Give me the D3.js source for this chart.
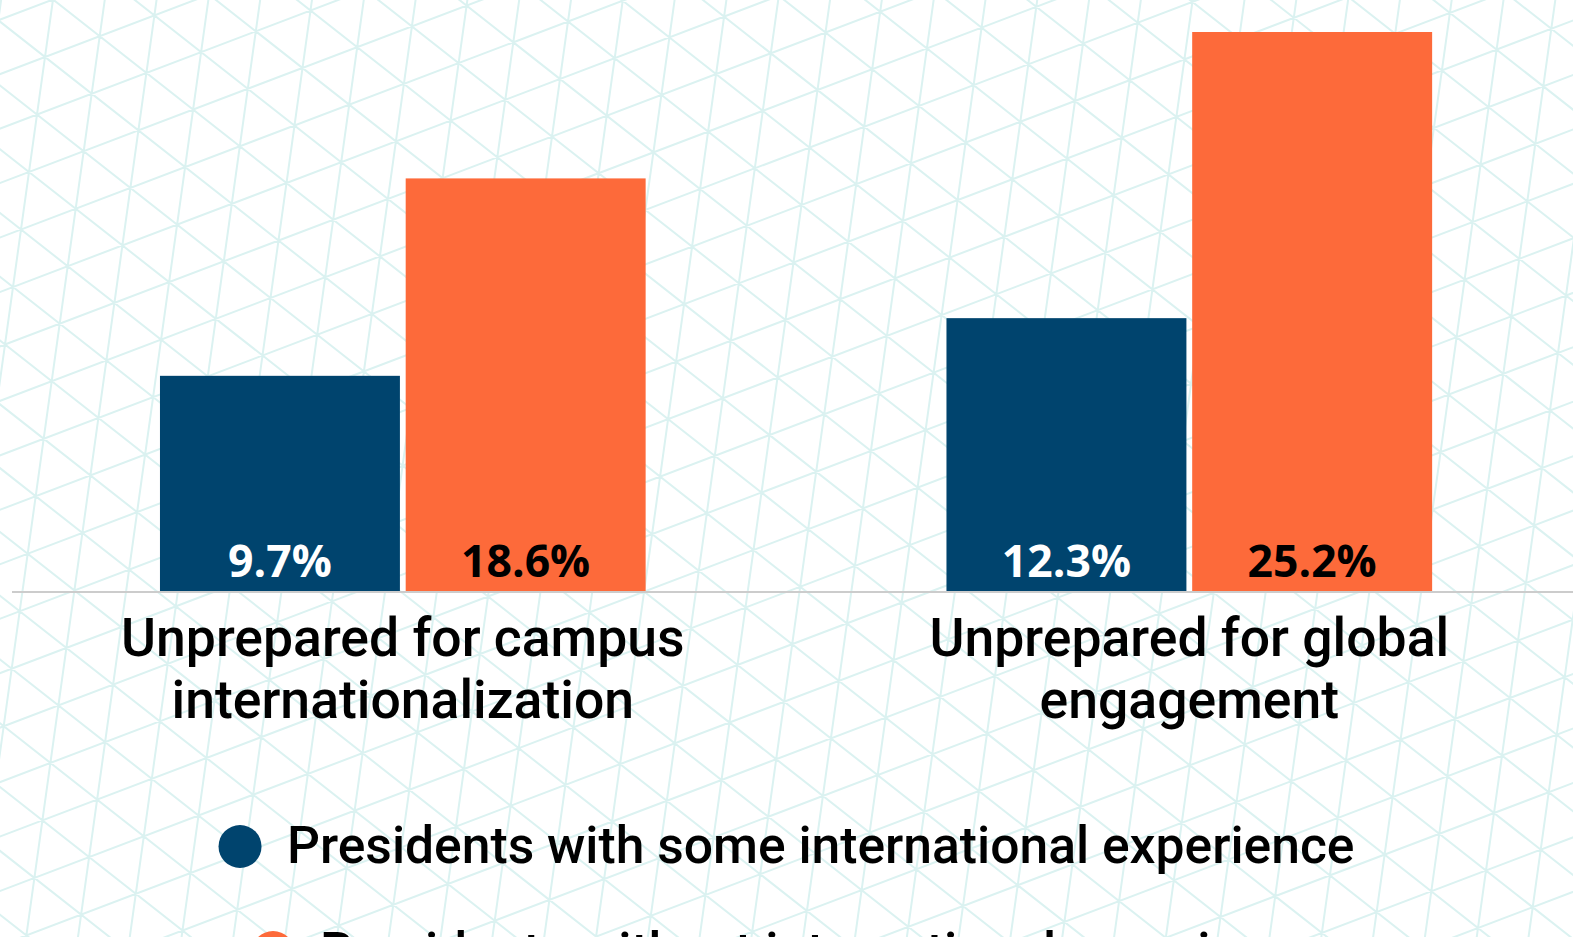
<!DOCTYPE html>
<html>
<head>
<meta charset="utf-8">
<script src="https://cdn.jsdelivr.net/npm/d3@7"></script>
<style>
    html, body { margin: 0; padding: 0; background: #fff; overflow: hidden; }
    svg { display: block; }
</style>
</head>
<body>
<div id="chart"></div>
<script>
// Chart values
const categories = ["campus", "global"];
const categoryLines = [
    ["Unprepared for campus", "internationalization"],
    ["Unprepared for global", "engagement"]
];
const seriesNames = [
    "Presidents with some international experience",
    "Presidents without international experience"
];
const withExperience = [9.7, 12.3];
const withoutExperience = [18.6, 25.2];
const seriesColors = ["#00446e", "#fd6a3a"];
const labelColors = ["#ffffff", "#000000"];

const width = 1573;
const height = 937;
const baseY = 591;

var svg = d3.select("#chart")
    .append("svg")
    .attr("width", width)
    .attr("height", height);

svg.append("rect")
    .attr("width", width)
    .attr("height", height)
    .attr("fill", "#ffffff");

// Background: rotated triangle grid
function drawGrid() {
    const p0 = [45, 57];
    const a = [-8, 57.5];
    const b = [46.7, 36.7];
    const c = [a[0] - b[0], a[1] - b[1]];
    const len = 3000;
    let d = "";
    function line(px, py, dir) {
        const n = Math.hypot(dir[0], dir[1]);
        const ux = dir[0] / n * len, uy = dir[1] / n * len;
        d += `M${(px - ux).toFixed(1)},${(py - uy).toFixed(1)}L${(px + ux).toFixed(1)},${(py + uy).toFixed(1)}`;
    }
    for (let k = -60; k <= 60; k++) {
        line(p0[0] + k * b[0], p0[1] + k * b[1], a);
        line(p0[0] + k * a[0], p0[1] + k * a[1], b);
        line(p0[0] + k * b[0], p0[1] + k * b[1], c);
    }
    svg.append("path")
        .attr("d", d)
        .attr("fill", "none")
        .attr("stroke", "#dbf2f1")
        .attr("stroke-width", 2);
}
drawGrid();

const rows = categories.map((c, i) => ({
    category: c,
    lines: categoryLines[i],
    values: [withExperience[i], withoutExperience[i]]
}));

// Scales
const x0 = d3.scaleBand()
    .domain(categories)
    .range([9.55, 1582.55])
    .paddingInner(0.3825)
    .paddingOuter(0.19125);
const x1 = d3.scaleBand()
    .domain(seriesNames)
    .range([0, x0.bandwidth()])
    .paddingInner(0.0235);
const y = d3.scaleLinear()
    .domain([0, d3.max(withoutExperience)])
    .range([baseY, 32]);

// Baseline
svg.append("line")
    .attr("x1", 12)
    .attr("x2", width)
    .attr("y1", baseY + 1)
    .attr("y2", baseY + 1)
    .attr("stroke", "#cccccc")
    .attr("stroke-width", 2);

const groups = svg.append("g")
    .selectAll("g")
    .data(rows)
    .join("g")
    .attr("transform", d => `translate(${x0(d.category)},0)`);

const cells = groups.selectAll("g")
    .data(d => d.values.map((v, i) => ({ name: seriesNames[i], value: v, i: i })))
    .join("g");

cells.append("rect")
    .attr("x", d => x1(d.name))
    .attr("y", d => y(d.value))
    .attr("width", x1.bandwidth())
    .attr("height", d => y(0) - y(d.value))
    .attr("fill", d => seriesColors[d.i]);

cells.append("text")
    .attr("x", d => x1(d.name) + x1.bandwidth() / 2)
    .attr("y", baseY - 14)
    .attr("text-anchor", "middle")
    .attr("fill", d => labelColors[d.i])
    .style("font", "700 44.5px 'Open Sans'")
    .text(d => d.value.toFixed(1) + "%");

// Category labels
groups.append("text")
    .attr("text-anchor", "middle")
    .attr("fill", "#000")
    .style("font", "500 53.5px Roboto")
    .selectAll("tspan")
    .data(d => d.lines)
    .join("tspan")
    .attr("x", x0.bandwidth() / 2)
    .attr("y", (_, i) => 656 + i * 62)
    .text(d => d);

// Legend, each row centred on the page
const legend = svg.append("g")
    .selectAll("g")
    .data(seriesNames)
    .join("g");

legend.append("circle")
    .attr("r", 21.5)
    .attr("cy", (_, i) => 846.5 + i * 106)
    .attr("fill", (_, i) => seriesColors[i]);

legend.append("text")
    .attr("x", 47)
    .attr("y", (_, i) => 863 + i * 106)
    .attr("fill", "#000")
    .style("font", "500 51.6px Roboto")
    .text(d => d);

legend.each(function() {
    const g = d3.select(this);
    const tw = g.select("text").node().getComputedTextLength();
    const total = 21.5 + 47 + tw;
    g.attr("transform", `translate(${width / 2 - total / 2 + 21.5},0)`);
});
</script>
</body>
</html>
